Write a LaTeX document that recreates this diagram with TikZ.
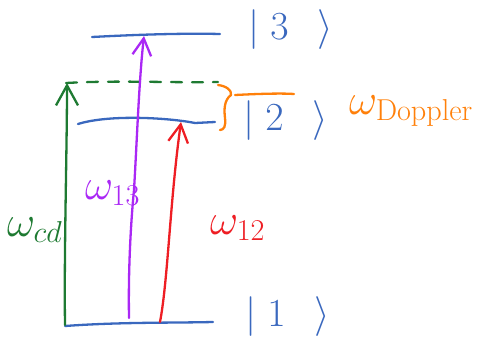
\documentclass[tikz,border=0pt]{standalone}
\usepackage{amsmath}
\usepackage{graphicx}
\usetikzlibrary{arrows.meta}
\definecolor{lvlblue}{RGB}{58,104,190}
\definecolor{cdgreen}{RGB}{30,122,50}
\definecolor{pur}{RGB}{170,40,245}
\definecolor{rd}{RGB}{238,30,36}
\definecolor{org}{RGB}{255,128,10}
% enlarged math, Latin Modern stops at \Huge
\newcommand{\ketsym}[1]{\scalebox{1.6}{\Huge $|\;#1\;\;\,\rangle$}}
\newcommand{\freq}[1]{\scalebox{1.75}{\Huge $\omega_{\scriptscriptstyle #1}$}}
\tikzset{
  pen/.style={line width=2.3pt, line cap=round, line join=round},
  level/.style={pen, lvlblue},
  ket/.style={lvlblue, inner sep=0pt, anchor=west},
  lbl/.style={inner sep=0pt, anchor=base west},
  head/.style={-{Straight Barb[length=#1pt, width=#1pt*1.1, line width=2.3pt]}},
}
\begin{document}
\begin{tikzpicture}[x=1pt, y=-1pt]
\useasboundingbox (0,0) rectangle (481,340);
% endpoints of the three levels and the virtual level
\coordinate (l1a) at (65,326);  \coordinate (l1b) at (213,322);
\coordinate (l2a) at (78,124);  \coordinate (l2b) at (215,122);
\coordinate (l3a) at (92,37);   \coordinate (l3b) at (220,34);
\coordinate (va) at (66,83);    \coordinate (vb) at (218,82);
% transition end points
\coordinate (gs) at (65,325);  \coordinate (gt) at (67,83);
\coordinate (ps) at (129,318); \coordinate (pt) at (144,36);
\coordinate (rs) at (160,322); \coordinate (rt) at (181,122);

% levels
\draw[level] (l1a) .. controls (120,322) and (170,323) .. (l1b);
\draw[level] (l2a) .. controls (110,114) and (170,118) .. (195,123) -- (l2b);
\draw[level] (l3a) .. controls (130,35) and (180,33) .. (l3b);
\draw[pen, cdgreen, dashed, dash pattern=on 11pt off 10pt] (va) .. controls (120,80) and (170,83) .. (vb);

% transitions
\draw[pen, cdgreen, head=20] (gs) .. controls (64,250) and (67,150) .. (gt);
\draw[pen, pur, head=17] (ps) .. controls (128,260) and (132,210) .. (134,190)
   .. controls (137,140) and (139,80) .. (pt);
\draw[pen, rd, head=18] (rs) .. controls (168,280) and (170,200) .. (rt);

% Doppler brace and marker line
\coordinate (bt) at (218,85); \coordinate (bb) at (220,130);
\coordinate (ma) at (235,95); \coordinate (mb) at (294,94);
\draw[pen, org] (bt) .. controls (226,86) and (232,90) .. (231,95)
   .. controls (224,100) and (224,110) .. (225,118) .. controls (226,126) and (224,130) .. (bb);
\draw[pen, org] (ma) .. controls (255,94) and (280,93) .. (mb);

% ket labels
\node[ket] (k3) at (248,30)  {\ketsym{3}};
\node[ket] (k2) at (243,121) {\ketsym{2}};
\node[ket] (k1) at (245,317) {\ketsym{1}};

% frequency labels
\node[lbl, cdgreen] (wcd) at (7,236) {\freq{cd}};
\node[lbl, pur] (w13) at (85,199) {\freq{13}};
\node[lbl, rd] (w12) at (210,234) {\freq{12}};
\node[lbl, org] (wd) at (349,114) {\freq{\mathrm{Doppler}}};
\end{tikzpicture}
\end{document}
